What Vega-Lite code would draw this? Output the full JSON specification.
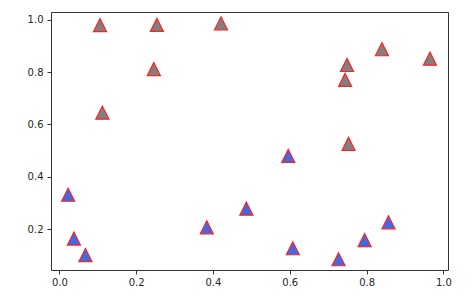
{
  "$schema": "https://vega.github.io/schema/vega-lite/v6.json",
  "width": 397,
  "height": 258,
  "autosize": {"type": "none"},
  "padding": {"left": 51, "top": 12, "right": 26, "bottom": 29},
  "background": "white",
  "config": {
    "view": {"stroke": "#333333", "strokeWidth": 1},
    "axis": {
      "grid": false,
      "domain": false,
      "tickColor": "#333333",
      "tickSize": 4,
      "tickWidth": 1,
      "labelFont": "DejaVu Sans",
      "labelFontSize": 10,
      "labelColor": "#262626",
      "title": null
    }
  },
  "data": {
    "values": [
      {"x": 0.106, "y": 0.979, "group": "high"},
      {"x": 0.254, "y": 0.980, "group": "high"},
      {"x": 0.421, "y": 0.986, "group": "high"},
      {"x": 0.246, "y": 0.811, "group": "high"},
      {"x": 0.112, "y": 0.645, "group": "high"},
      {"x": 0.840, "y": 0.887, "group": "high"},
      {"x": 0.965, "y": 0.851, "group": "high"},
      {"x": 0.749, "y": 0.827, "group": "high"},
      {"x": 0.744, "y": 0.770, "group": "high"},
      {"x": 0.753, "y": 0.526, "group": "high"},
      {"x": 0.596, "y": 0.480, "group": "low"},
      {"x": 0.023, "y": 0.332, "group": "low"},
      {"x": 0.038, "y": 0.165, "group": "low"},
      {"x": 0.068, "y": 0.102, "group": "low"},
      {"x": 0.384, "y": 0.208, "group": "low"},
      {"x": 0.487, "y": 0.279, "group": "low"},
      {"x": 0.608, "y": 0.128, "group": "low"},
      {"x": 0.727, "y": 0.086, "group": "low"},
      {"x": 0.795, "y": 0.159, "group": "low"},
      {"x": 0.857, "y": 0.227, "group": "low"}
    ]
  },
  "mark": {
    "type": "point",
    "shape": "M0,-1L-1,1L1,1Z",
    "size": 170,
    "filled": true,
    "opacity": 1,
    "stroke": "#ff2020",
    "strokeWidth": 1.2
  },
  "encoding": {
    "x": {
      "field": "x",
      "type": "quantitative",
      "scale": {"domain": [-0.0217, 1.012], "nice": false, "zero": false},
      "axis": {"values": [0, 0.2, 0.4, 0.6, 0.8, 1.0], "format": ".1f", "labelPadding": 3}
    },
    "y": {
      "field": "y",
      "type": "quantitative",
      "scale": {"domain": [0.045, 1.029], "nice": false, "zero": false},
      "axis": {"values": [0.2, 0.4, 0.6, 0.8, 1.0], "format": ".1f", "labelPadding": 4}
    },
    "fill": {
      "field": "group",
      "type": "nominal",
      "scale": {"domain": ["high", "low"], "range": ["#808080", "#4169E1"]},
      "legend": null
    }
  }
}
